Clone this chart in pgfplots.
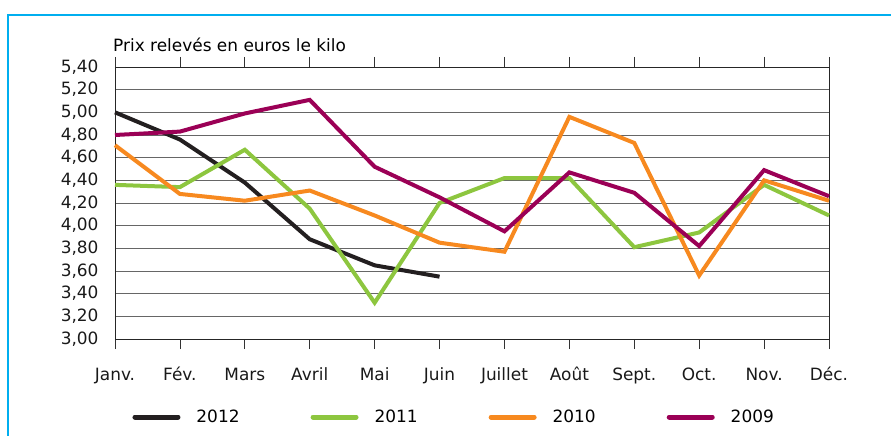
\documentclass[border=0pt]{standalone}
\usepackage{pgfplots}
\pgfplotsset{compat=1.18}
\usepackage{fontspec}
\setmainfont{DejaVu Sans}
\definecolor{c2012}{HTML}{231F20}
\definecolor{c2011}{HTML}{8DC63F}
\definecolor{c2010}{HTML}{F7891F}
\definecolor{c2009}{HTML}{9B0056}
\definecolor{cframe}{HTML}{00AEEF}
\begin{document}
\begin{tikzpicture}
\begin{axis}[
  name=ax,
  scale only axis,
  width=714bp, height=272bp,
  xmin=0, xmax=11,
  ymin=3, ymax=5.4,
  xtick={0,...,11},
  xticklabels={Janv.,Fév.,Mars,Avril,Mai,Juin,Juillet,Août,Sept.,Oct.,Nov.,Déc.},
  ytick={3,3.2,...,5.41},
  yticklabel style={/pgf/number format/fixed, /pgf/number format/fixed zerofill,
    /pgf/number format/precision=2, /pgf/number format/use comma,
    /pgf/number format/assume math mode=true, xshift=-3bp},
  tick label style={font=\fontsize{17}{20}\selectfont, text=black!90},
  xticklabel style={text height=13bp, text depth=4bp, yshift=-15bp},
  tick align=outside,
  major tick length=10bp,
  xtick style={black!80, line width=0.8bp},
  ytick style={draw=none},
  ymajorgrids,
  grid style={black!60, line width=0.9bp},
  axis line style={black!85, line width=0.8bp},
  clip=false,
  legend columns=4,
  legend style={at={(rel axis cs:0.475,0)}, yshift=-78bp, anchor=center, draw=none, fill=none,
    font=\fontsize{17}{20}\selectfont,
    /tikz/every odd column/.append style={column sep=14bp},
    /tikz/every even column/.append style={column sep=69bp}},
  legend image code/.code={\draw[#1, line width=5bp, line cap=round] (0bp,0bp) -- (43bp,0bp);},
  every axis plot/.append style={line width=4bp, line join=miter},
]
\addplot[c2012] coordinates {(0,5.00)(1,4.76)(2,4.38)(3,3.88)(4,3.65)(5,3.55)};
\addlegendentry{2012}
\addplot[c2011] coordinates {(0,4.36)(1,4.34)(2,4.67)(3,4.15)(4,3.32)(5,4.20)(6,4.42)(7,4.42)(8,3.81)(9,3.94)(10,4.36)(11,4.09)};
\addlegendentry{2011}
\addplot[c2010] coordinates {(0,4.71)(1,4.28)(2,4.22)(3,4.31)(4,4.09)(5,3.85)(6,3.77)(7,4.96)(8,4.73)(9,3.56)(10,4.40)(11,4.22)};
\addlegendentry{2010}
\addplot[c2009] coordinates {(0,4.80)(1,4.83)(2,4.99)(3,5.11)(4,4.52)(5,4.25)(6,3.95)(7,4.47)(8,4.29)(9,3.82)(10,4.49)(11,4.26)};
\addlegendentry{2009}
\node[anchor=base west, font=\fontsize{17}{20}\selectfont, inner sep=0pt] at ([xshift=-2bp, yshift=16bp]rel axis cs:0,1) {Prix relevés en euros le kilo};
\end{axis}
\pgfresetboundingbox
\path[use as bounding box] ([xshift=-115bp, yshift=-97bp]ax.south west) rectangle ([xshift=776bp, yshift=339bp]ax.south west);
\draw[cframe, line width=2bp] ([xshift=-107bp, yshift=-120bp]ax.south west) -- ([xshift=-107bp, yshift=324bp]ax.south west) -- ([xshift=800bp, yshift=324bp]ax.south west);
\end{tikzpicture}
\end{document}
